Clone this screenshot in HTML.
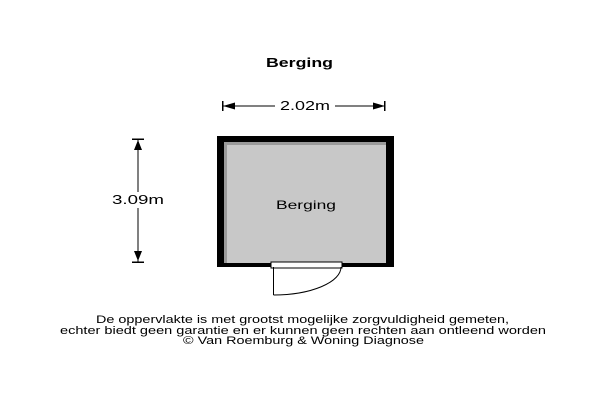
<!DOCTYPE html>
<html><head><style>body{margin:0;background:#fff}</style></head><body>
<svg width="600" height="400" xmlns="http://www.w3.org/2000/svg" font-family="Liberation Sans, sans-serif">
<rect width="600" height="400" fill="#fff"/>
<text x="266" y="67" font-size="13" font-weight="bold" textLength="67" lengthAdjust="spacingAndGlyphs">Berging</text>
<!-- width dimension -->
<line x1="223" y1="106" x2="385" y2="106" stroke="#000" stroke-width="1"/>
<rect x="222" y="101" width="1.5" height="10" fill="#000"/>
<rect x="384" y="101" width="1.5" height="10" fill="#000"/>
<polygon points="223,106 235,102.5 235,109.5" fill="#000"/>
<polygon points="385,106 373,102.5 373,109.5" fill="#000"/>
<rect x="275" y="98" width="60" height="16" fill="#fff"/>
<text x="280" y="110" font-size="13" textLength="50" lengthAdjust="spacingAndGlyphs">2.02m</text>
<!-- height dimension -->
<line x1="138" y1="139" x2="138" y2="262" stroke="#000" stroke-width="1"/>
<rect x="132" y="138.5" width="12" height="1.5" fill="#000"/>
<rect x="132" y="261.5" width="12" height="1.5" fill="#000"/>
<polygon points="138,140 134,150 142,150" fill="#000"/>
<polygon points="138,261 134,251 142,251" fill="#000"/>
<rect x="110" y="192" width="56" height="16" fill="#fff"/>
<text x="112" y="204" font-size="13" textLength="52" lengthAdjust="spacingAndGlyphs">3.09m</text>
<!-- room -->
<rect x="217" y="136" width="177" height="131" fill="#000"/>
<rect x="224" y="142" width="162" height="121" fill="#c8c8c8"/>
<rect x="224" y="142" width="162" height="3" fill="#9a9a9a"/>
<rect x="224" y="142" width="3" height="121" fill="#9a9a9a"/>
<text x="276" y="209" font-size="12" textLength="60" lengthAdjust="spacingAndGlyphs">Berging</text>
<!-- door -->
<rect x="271" y="262" width="71" height="6" fill="#fff" stroke="#000" stroke-width="1"/>
<line x1="273.5" y1="267" x2="273.5" y2="295" stroke="#000" stroke-width="1"/>
<path d="M273.5 295 A68 28 0 0 0 341 267" fill="none" stroke="#000" stroke-width="1"/>
<!-- footer -->
<text x="96" y="323" font-size="11" textLength="413" lengthAdjust="spacingAndGlyphs">De oppervlakte is met grootst mogelijke zorgvuldigheid gemeten,</text>
<text x="60" y="334" font-size="11" textLength="486" lengthAdjust="spacingAndGlyphs">echter biedt geen garantie en er kunnen geen rechten aan ontleend worden</text>
<text x="183" y="344" font-size="11" textLength="241" lengthAdjust="spacingAndGlyphs">© Van Roemburg &amp; Woning Diagnose</text>
</svg>
</body></html>
